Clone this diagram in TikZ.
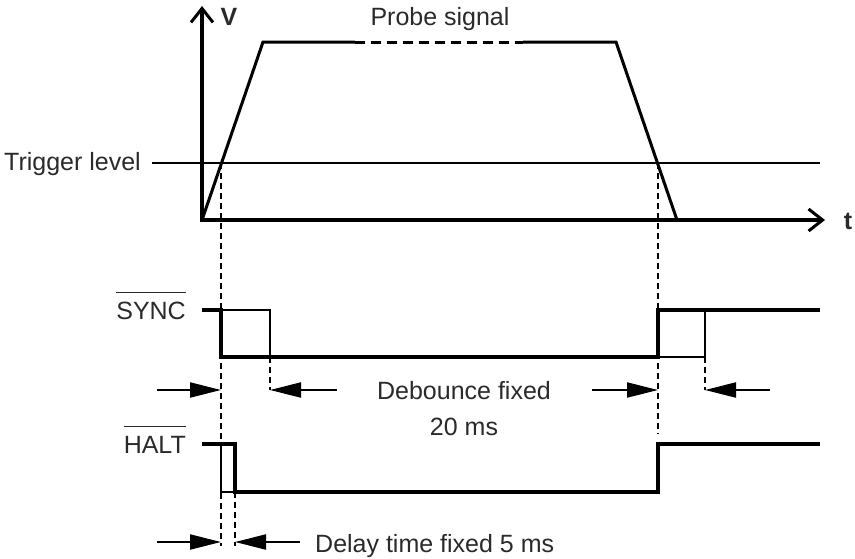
\documentclass[tikz,border=0pt]{standalone}
\usepackage{fontspec}
\setmainfont{Liberation Sans}
\usetikzlibrary{arrows.meta}
\definecolor{txt}{HTML}{2A2A2A}
\begin{document}
\begin{tikzpicture}[x=1pt,y=-1pt,
  thickline/.style={line width=3.6pt, line join=miter},
  probeline/.style={line width=3pt, line join=miter},
  thinline/.style={line width=1.3pt},
  guide/.style={line width=1.5pt, dash pattern=on 6pt off 4pt},
  lbl/.style={font=\fontsize{25}{29}\selectfont, inner sep=0pt, text=txt},
  dimarrow/.style={line width=2pt, -{Triangle[length=31pt,width=15pt]}},
  axis/.style={line width=3.4pt, -{Straight Barb[length=14pt,width=22pt,line width=3pt]}},
  ovl/.style={line width=1.6pt, draw=txt}
]
\useasboundingbox (0,0) rectangle (855,558);

% axes
\coordinate (O) at (202,221.5);
\coordinate (Vtop) at (202,6);
\coordinate (Tend) at (825,220);
\coordinate (Oh) at (200.5,220);
\draw[axis] (O) -- (Vtop);
\draw[axis] (Oh) -- (Tend);
\node[lbl, font=\fontsize{25}{29}\selectfont\bfseries] (V) at (229,17) {V};
\node[lbl, font=\fontsize{25}{29}\selectfont\bfseries] (T) at (848,221) {t};

% trigger level
\coordinate (TrL) at (152,163);
\coordinate (TrR) at (820,163);
\draw[thinline] (TrL) -- (TrR);
\node[lbl, anchor=base west] (trig) at (4,170) {Trigger level};

% probe signal
\coordinate (P0) at (202,220);
\coordinate (P1) at (263,42);
\coordinate (P2) at (355,42);
\coordinate (P3) at (523,42);
\coordinate (P4) at (616,42);
\coordinate (P5) at (677,220);
\draw[probeline] (P0) -- (P1) -- (P2);
\draw[probeline, dash pattern=on 10pt off 6pt] (P2) -- (P3);
\draw[probeline] (P3) -- (P4) -- (P5);
\node[lbl] (probe) at (440,19) {Probe signal};

% guide lines
\coordinate (G1a) at (221,163);
\coordinate (G1b) at (221,546);
\coordinate (G2a) at (658,163);
\coordinate (G2b) at (658,434);
\coordinate (G3a) at (270,357);
\coordinate (G3b) at (270,390);
\coordinate (G4a) at (705,357);
\coordinate (G4b) at (705,390);
\coordinate (G5a) at (235,492);
\coordinate (G5b) at (235,546);
\draw[guide] (G1a) -- (G1b);
\draw[guide] (G2a) -- (G2b);
\draw[guide] (G3a) -- (G3b);
\draw[guide] (G4a) -- (G4b);
\draw[guide] (G5a) -- (G5b);

% SYNC
\node[lbl, anchor=base east] (sync) at (186,319) {SYNC};
\draw[ovl] ([yshift=9pt]sync.north west) -- ([yshift=9pt]sync.north east);
\coordinate (S0) at (202,310);
\coordinate (S1) at (221,310);
\coordinate (S2) at (221,357);
\coordinate (S3) at (658,357);
\coordinate (S4) at (658,310);
\coordinate (S5) at (820,310);
\coordinate (S6) at (270,310);
\coordinate (S7) at (270,357);
\coordinate (S8) at (705,357);
\coordinate (S9) at (705,310);
\draw[thinline] (S1) -- (S6) -- (S7);
\draw[thinline] (S3) -- (S8) -- (S9);
\draw[thickline] (S0) -- (S1) -- (S2) -- (S3) -- (S4) -- (S5);

% HALT
\node[lbl, anchor=base east] (halt) at (186,453) {HALT};
\draw[ovl] ([yshift=9pt]halt.north west) -- ([yshift=9pt]halt.north east);
\coordinate (H0) at (202,444);
\coordinate (H1) at (235,444);
\coordinate (H2) at (235,492);
\coordinate (H3) at (658,492);
\coordinate (H4) at (658,444);
\coordinate (H5) at (820,444);
\coordinate (H6) at (221,444);
\coordinate (H7) at (221,492);
\draw[thinline] (H6) -- (H7) -- (H2);
\draw[thickline] (H0) -- (H1) -- (H2) -- (H3) -- (H4) -- (H5);

% debounce arrows
\coordinate (A1s) at (157,390);
\coordinate (A1e) at (221,390);
\coordinate (A2s) at (337,390);
\coordinate (A2e) at (270,390);
\coordinate (A3s) at (592,390);
\coordinate (A3e) at (658,390);
\coordinate (A4s) at (770,390);
\coordinate (A4e) at (705,390);
\draw[dimarrow] (A1s) -- (A1e);
\draw[dimarrow] (A2s) -- (A2e);
\draw[dimarrow] (A3s) -- (A3e);
\draw[dimarrow] (A4s) -- (A4e);
\node[lbl, anchor=base] (deb1) at (464,399) {Debounce fixed};
\node[lbl, anchor=base] (deb2) at (464,435) {20 ms};

% delay arrows
\coordinate (D1s) at (157,542);
\coordinate (D1e) at (221,542);
\coordinate (D2s) at (300,542);
\coordinate (D2e) at (235,542);
\draw[dimarrow] (D1s) -- (D1e);
\draw[dimarrow] (D2s) -- (D2e);
\node[lbl, anchor=base west] (delay) at (315,552) {Delay time fixed 5 ms};
\end{tikzpicture}
\end{document}
